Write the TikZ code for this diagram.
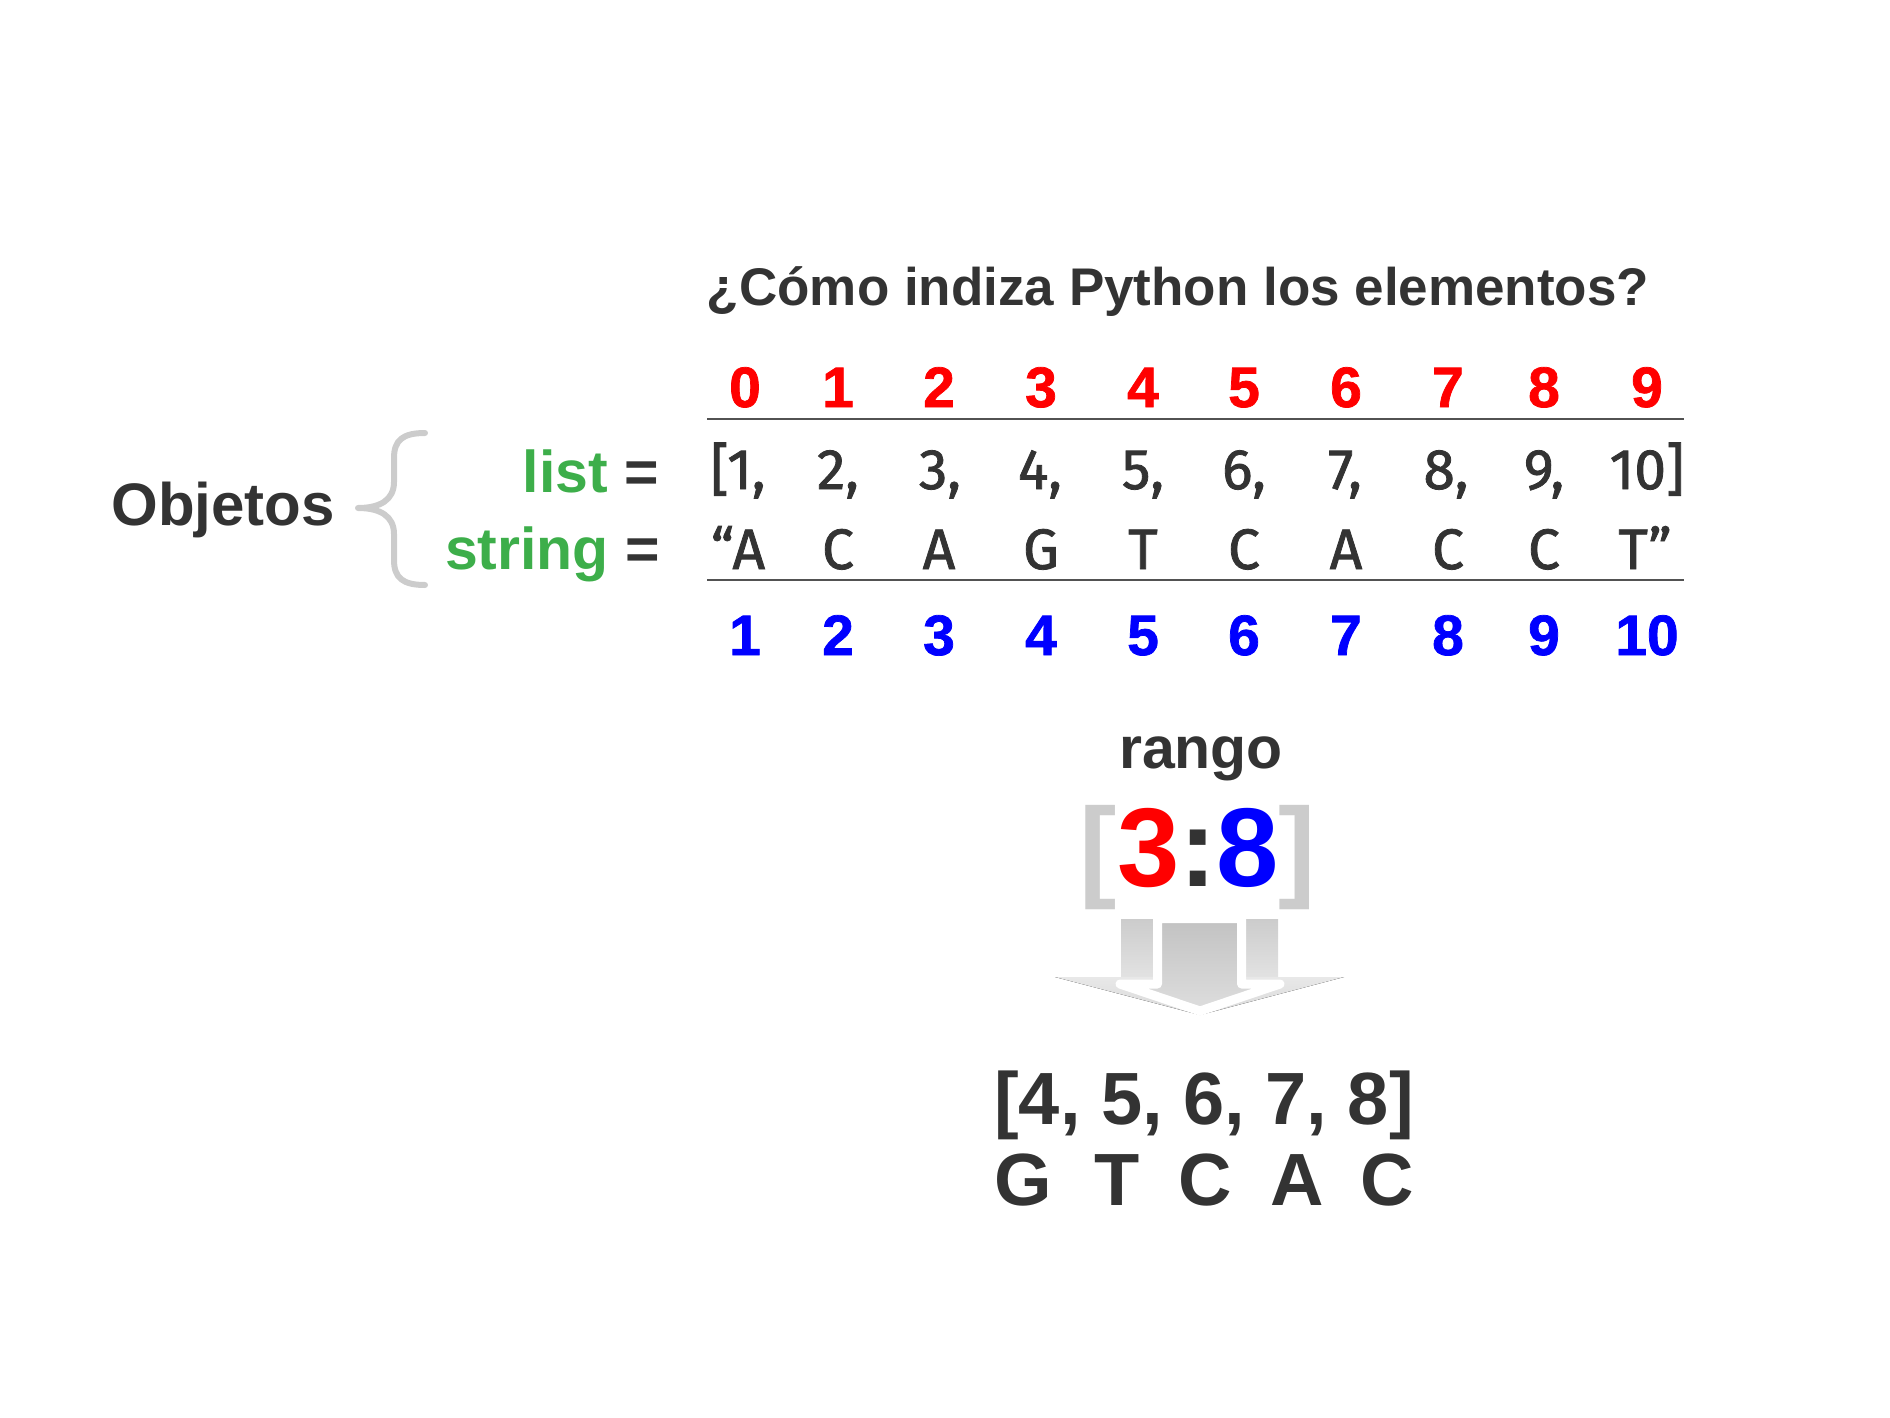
\documentclass[tikz,border=0pt]{standalone}
\usepackage{fontspec}
\setmainfont{Liberation Sans}
\newfontfamily\condfont[FakeBold=1.4]{Fira Sans}
\newfontfamily\heavyfont[FakeBold=1.3]{Liberation Sans Bold}
\usetikzlibrary{shadings}
\definecolor{txt}{HTML}{333333}
\definecolor{idxred}{HTML}{FF0000}
\definecolor{idxblue}{HTML}{0000FF}
\definecolor{objgreen}{HTML}{3DAE4A}
\definecolor{lgray}{HTML}{CCCCCC}
\begin{document}
\begin{tikzpicture}[x=1pt,y=-1pt,
  bsz/.style={font=\bfseries\fontsize{#1}{#1}\selectfont},
  hsz/.style={font=\heavyfont\fontsize{#1}{#1}\selectfont},
  base/.style={inner sep=0pt, anchor=base, text=txt},
  titletext/.style={base, bsz=53},
  redidx/.style={base, hsz=57, text=idxred},
  blueidx/.style={base, hsz=57, text=idxblue},
  cell/.style={base, font=\condfont\fontsize{57}{57}\selectfont},
  objlbl/.style={base, bsz=59, anchor=base east},
  rule/.style={draw=txt!85, line width=1.5pt},
  bracestyle/.style={draw=lgray, line width=6pt, line cap=round, line join=round},
]
\useasboundingbox (0,0) rectangle (1890,1418);

% title
\node[titletext] (title) at (1178,305) {¿Cómo indiza Python los elementos?};

% red indices
\foreach \n/\x in {0/745,1/838,2/939,3/1041,4/1143,5/1244,6/1346,7/1448,8/1544,9/1647}
  \node[redidx] (r\n) at (\x,407) {\n};

% rules
\coordinate (l1a) at (707,419); \coordinate (l1b) at (1684,419);
\coordinate (l2a) at (707,580); \coordinate (l2b) at (1684,580);
\draw[rule] (l1a) -- (l1b);
\draw[rule] (l2a) -- (l2b);

% list row
\node[cell] (c1) at (738,489) {[1,};
\node[cell] (c2) at (838,489) {2,};
\node[cell] (c3) at (940,489) {3,};
\node[cell] (c4) at (1040,489) {4,};
\node[cell] (c5) at (1143,489) {5,};
\node[cell] (c6) at (1244,489) {6,};
\node[cell] (c7) at (1345,489) {7,};
\node[cell] (c8) at (1446,489) {8,};
\node[cell] (c9) at (1544,489) {9,};
\node[cell] (c10) at (1647,489) {10]};

% string row
\node[cell] (s1) at (738,569) {“A};
\node[cell] (s2) at (838,569) {C};
\node[cell] (s3) at (939,569) {A};
\node[cell] (s4) at (1041,569) {G};
\node[cell] (s5) at (1143,569) {T};
\node[cell] (s6) at (1244,569) {C};
\node[cell] (s7) at (1346,569) {A};
\node[cell] (s8) at (1448,569) {C};
\node[cell] (s9) at (1544,569) {C};
\node[cell] (s10) at (1645,569) {T”};

% blue indices
\foreach \n/\x in {1/745,2/838,3/939,4/1041,5/1143,6/1244,7/1346,8/1448,9/1544,10/1647}
  \node[blueidx] (b\n) at (\x,655) {\n};

% left labels
\node[base, bsz=60] (obj) at (223,525) {Objetos};
\draw[bracestyle] (425,433) .. controls (403,433) and (394,440) .. (394,458)
  -- (394,482) .. controls (394,500) and (380,508) .. (358,508)
  .. controls (380,508) and (394,516) .. (394,534)
  -- (394,560) .. controls (394,578) and (403,585) .. (425,585);
\node[objlbl] (listlbl) at (659,492) {{\color{objgreen}list} =};
\node[objlbl] (strlbl) at (660,569) {{\color{objgreen}string} =};

% rango
\node[base, bsz=59] (rango) at (1201,768) {rango};
\node[base, bsz=112] (range) at (1198,886)
  {{\color{lgray}[}{\color{idxred}3}{\color{txt}:}{\color{idxblue}8}{\color{lgray}]}};

% arrow
\fill[top color=lgray, bottom color=lgray!55!white] (1121,919) rectangle (1153,979);
\fill[top color=lgray, bottom color=lgray!55!white] (1246,919) rectangle (1278,979);
\fill[top color=lgray!45!white, bottom color=lgray!75!white] (1055,977) -- (1344,977) -- (1200,1015) -- cycle;
\fill[white] (1153,915) rectangle (1162,985);
\fill[white] (1237,915) rectangle (1246,985);
\draw[white, line width=9pt, line join=round, top color=lgray!95!black, bottom color=lgray!65!white]
  (1157.5,918.5) -- (1241.5,918.5) -- (1241.5,984) -- (1280,984) -- (1200,1011) -- (1120,984) -- (1157.5,984) -- cycle;

% result
\node[base, bsz=74] (reslist) at (1204,1124) {[4, 5, 6, 7, 8]};
\node[base, bsz=74] (g1) at (1023,1205) {G};
\node[base, bsz=74] (g2) at (1117,1205) {T};
\node[base, bsz=74] (g3) at (1205,1205) {C};
\node[base, bsz=74] (g4) at (1297,1205) {A};
\node[base, bsz=74] (g5) at (1387,1205) {C};
\end{tikzpicture}
\end{document}
